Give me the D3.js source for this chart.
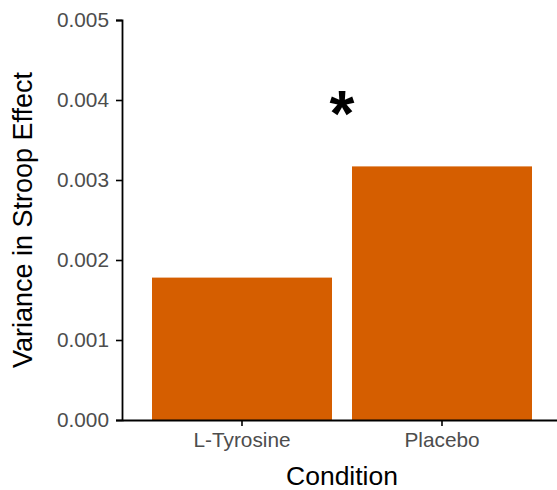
<!DOCTYPE html>
<html>
<head>
<meta charset="utf-8">
<script src="https://cdn.jsdelivr.net/npm/d3@7"></script>
<style>
  body { margin: 0; background: #fff; }
  text { font-family: "Liberation Sans", Arial, sans-serif; }
</style>
</head>
<body>
<div id="chart"></div>
<script>
// Data
var conditions = ["L-Tyrosine", "Placebo"];
var variances = [0.00178, 0.00317];
var yTicks = [0, 0.001, 0.002, 0.003, 0.004, 0.005];
var sigLabel = "*";
var sigLevel = 0.00355; // where the star sits, in data units

var W = 557, H = 490;
var margin = {top: 20, right: -5, bottom: 70, left: 122};
var width = W - margin.left - margin.right,
    height = H - margin.top - margin.bottom;

var svg = d3.select("#chart")
    .append("svg")
    .attr("width", W)
    .attr("height", H)
    .append("g")
    .attr("transform", `translate(${margin.left},${margin.top})`);

// X scale: ggplot-like discrete expansion, bar width 0.9
var x = d3.scaleBand()
    .domain(conditions)
    .range([0, width])
    .paddingInner(0.1)
    .paddingOuter(0.15);

var y = d3.scaleLinear()
    .domain([0, 0.005])
    .range([height, 0]);

// Bars
svg.selectAll(".bar")
    .data(conditions)
    .join("rect")
    .attr("class", "bar")
    .attr("x", d => x(d))
    .attr("y", (d, i) => y(variances[i]))
    .attr("width", x.bandwidth())
    .attr("height", (d, i) => y(0) - y(variances[i]))
    .attr("fill", "#D55E00");

// Y axis
var yAxis = svg.append("g")
    .call(d3.axisLeft(y).tickValues(yTicks).tickFormat(d3.format(".3f")).tickSize(6).tickPadding(7));
yAxis.select(".domain").attr("stroke", "#000").attr("stroke-width", 1.8);
yAxis.selectAll(".tick line").attr("stroke", "#000").attr("stroke-width", 1.6);
yAxis.selectAll(".tick text")
    .attr("fill", "#4D4D4D")
    .style("font-size", "20.8px");

// X axis
var xAxis = svg.append("g")
    .attr("transform", `translate(0,${height})`)
    .call(d3.axisBottom(x).tickSize(6).tickSizeOuter(0).tickPadding(6));
xAxis.select(".domain").attr("stroke", "#000").attr("stroke-width", 1.8);
xAxis.selectAll(".tick line").attr("stroke", "#000").attr("stroke-width", 1.6);
xAxis.selectAll(".tick text")
    .attr("fill", "#4D4D4D")
    .style("font-size", "20.8px");

// Axis titles
svg.append("text")
    .attr("x", (x(conditions[0]) + x(conditions[1]) + x.bandwidth()) / 2)
    .attr("y", height + 65)
    .attr("text-anchor", "middle")
    .style("font-size", "26.5px")
    .attr("fill", "#000")
    .text("Condition");

svg.append("text")
    .attr("transform", `translate(${-margin.left + 32},${height / 2}) rotate(-90)`)
    .attr("text-anchor", "middle")
    .style("font-size", "27px")
    .attr("fill", "#000")
    .text("Variance in Stroop Effect");

// Significance star between the bars
svg.append("text")
    .attr("x", (x(conditions[0]) + x(conditions[1]) + x.bandwidth()) / 2)
    .attr("y", y(sigLevel))
    .attr("text-anchor", "middle")
    .style("font-size", "64px")
    .style("font-weight", "bold")
    .attr("fill", "#000")
    .text(sigLabel);
</script>
</body>
</html>
